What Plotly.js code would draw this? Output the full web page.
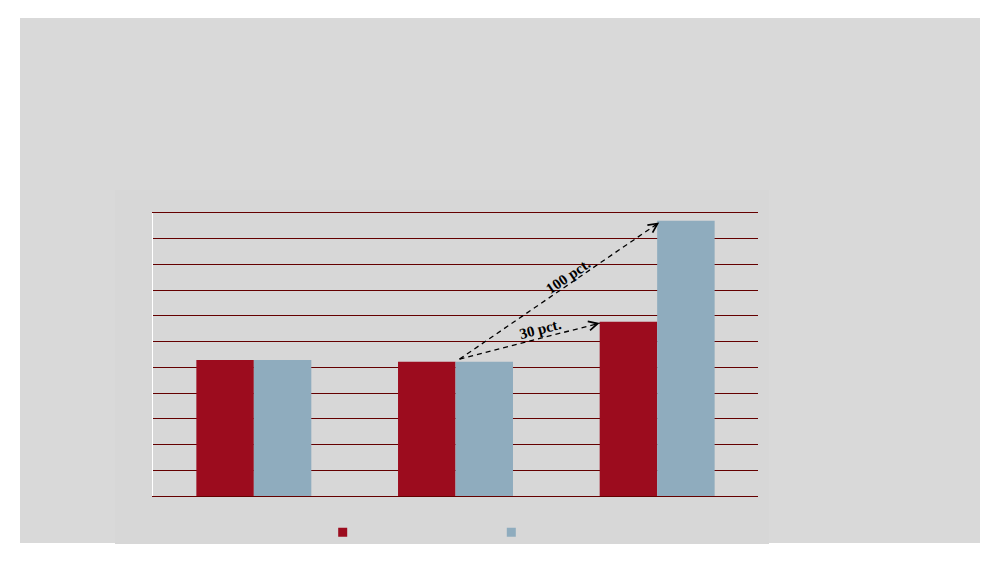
<!DOCTYPE html>
<html>
<head>
<meta charset="utf-8">
<script src="https://cdn.plot.ly/plotly-3.0.1.min.js"></script>
<style>html,body{margin:0;padding:0;background:#fff;}#chart{width:1000px;height:563px;}</style>
</head>
<body>
<div id="chart"></div>
<script>
// ---- data ----
const categories = ['Periode 1', 'Periode 2', 'Periode 3'];
const seriesRedName = 'Serie 1';
const seriesBlueName = 'Serie 2';
const seriesRed = [5.29, 5.22, 6.77];
const seriesBlue = [5.29, 5.22, 10.70];
const arrowLabels = ['30 pct.', '100 pct.'];
const yMax = 11;

// ---- layout geometry ----
const W = 1000, H = 563;
const M = {l: 153, r: 242, t: 213, b: 67};
const PW = W - M.l - M.r, PH = H - M.t - M.b;
const px2x = p => (p - M.l) / PW;           // page px -> paper x
const py2y = p => (H - M.b - p) / PH;       // page px -> paper y
const pxPerX = PW / categories.length;      // px per category unit
const pxPerY = PH / yMax;

const red = '#9c0c1e', blue = '#8facbe';
const gridColor = '#640000';
const bargap = 0.43;

const traces = [
  {type: 'bar', x: categories, y: seriesRed, name: seriesRedName, marker: {color: red}, showlegend: false, hoverinfo: 'y'},
  {type: 'bar', x: categories, y: seriesBlue, name: seriesBlueName, marker: {color: blue}, showlegend: false, hoverinfo: 'y'},
  {type: 'scatter', x: [null], y: [null], mode: 'markers', name: ' ', marker: {symbol: 'square', size: 9, color: red}, showlegend: true},
  {type: 'scatter', x: [null], y: [null], mode: 'markers', name: ' ', marker: {symbol: 'square', size: 9, color: blue}, showlegend: true}
];

// arrows derived from data
const halfBar = (1 - bargap) / 2;
const start = {x: 1 + 0.02, y: seriesBlue[1] + 0.1};
const end30 = {x: 2 - halfBar, y: seriesRed[2] - 0.05};
const end100 = {x: 2 + 0.01, y: seriesBlue[2] - 0.07};
const ends = [end30, end100];

const shapes = [
  {type: 'rect', xref: 'paper', yref: 'paper', x0: px2x(20), x1: px2x(980), y0: py2y(543), y1: py2y(18), fillcolor: '#d9d9d9', line: {width: 0}, layer: 'below'},
  {type: 'rect', xref: 'paper', yref: 'paper', x0: px2x(115), x1: px2x(769), y0: py2y(544), y1: py2y(190), fillcolor: '#d7d7d7', line: {width: 0}, layer: 'below'}
];
const annotations = [];
const labelShift = [{dx: 11, dy: 12}, {dx: 9, dy: 15}];
ends.forEach((e, i) => {
  shapes.push({type: 'line', xref: 'x', yref: 'y', x0: start.x, y0: start.y, x1: e.x, y1: e.y,
    line: {color: '#000', width: 1.3, dash: '5px,4px'}, layer: 'above'});
  const f = 0.04;
  annotations.push({xref: 'x', yref: 'y', axref: 'x', ayref: 'y', x: e.x, y: e.y,
    ax: e.x - f * (e.x - start.x), ay: e.y - f * (e.y - start.y), text: '', showarrow: true,
    arrowhead: 5, arrowsize: 1.8, arrowwidth: 1, arrowcolor: '#000'});
  const dxp = (e.x - start.x) * pxPerX, dyp = (e.y - start.y) * pxPerY;
  const ang = Math.atan2(dyp, dxp) * 180 / Math.PI;
  annotations.push({xref: 'x', yref: 'y', x: (start.x + e.x) / 2, y: (start.y + e.y) / 2,
    xshift: labelShift[i].dx, yshift: labelShift[i].dy, text: '<b>' + arrowLabels[i] + '</b>', showarrow: false,
    textangle: -ang, font: {family: 'Liberation Serif, DejaVu Serif, serif', size: 15, color: '#000'}});
});

const layout = {
  width: W, height: H,
  margin: M,
  paper_bgcolor: '#ffffff',
  plot_bgcolor: 'rgba(0,0,0,0)',
  barmode: 'group', bargap: bargap, bargroupgap: 0,
  showlegend: true,
  legend: {orientation: 'h', x: px2x(342.7 - 20), xanchor: 'left', y: py2y(532.3), yanchor: 'middle',
    entrywidth: 123.6, entrywidthmode: 'pixels', bgcolor: 'rgba(0,0,0,0)', font: {size: 11}},
  xaxis: {type: 'category', showticklabels: false, showgrid: false, zeroline: false,
    showline: true, mirror: true, linecolor: gridColor, linewidth: 1, ticks: '', fixedrange: true},
  yaxis: {range: [0, yMax], dtick: 1, showticklabels: false, showgrid: true, gridcolor: gridColor, gridwidth: 1,
    zeroline: true, zerolinecolor: gridColor, zerolinewidth: 1, showline: true, linecolor: '#ffffff', linewidth: 1, ticks: '', fixedrange: true},
  shapes: shapes,
  annotations: annotations,
  font: {family: 'Liberation Sans, Arial, sans-serif'}
};

Plotly.newPlot('chart', traces, layout, {displayModeBar: false, staticPlot: true});
</script>
</body>
</html>
